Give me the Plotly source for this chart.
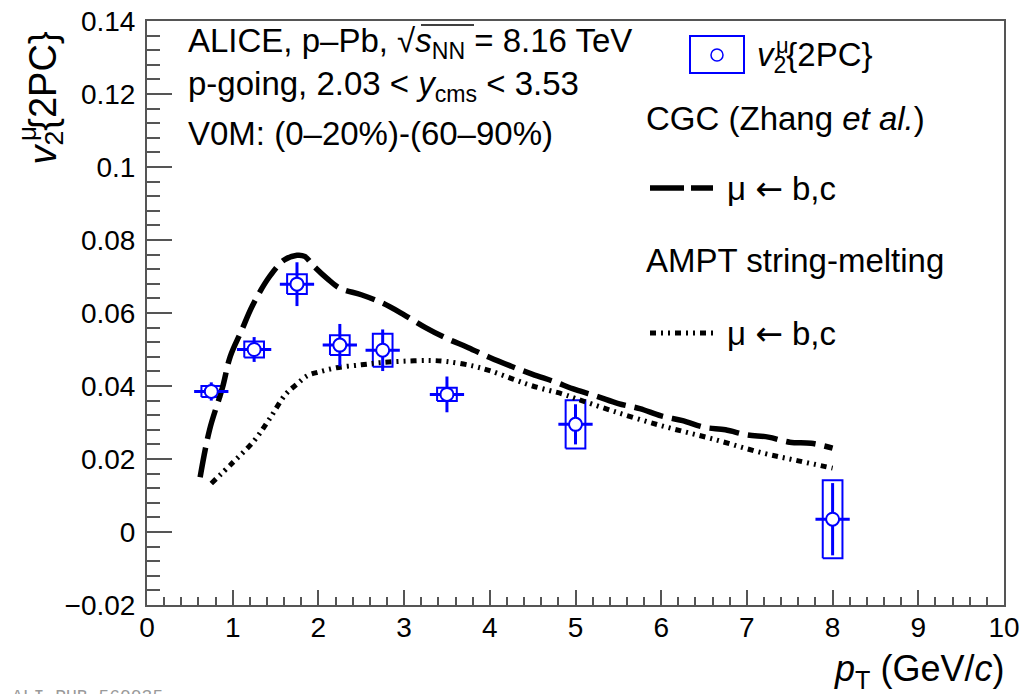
import plotly.graph_objects as go

# ---------------- data ----------------
pt = [0.75, 1.25, 1.75, 2.25, 2.75, 3.5, 5.0, 8.0]
v2 = [0.0385, 0.0500, 0.0679, 0.0512, 0.0498, 0.0377, 0.0295, 0.0035]
stat = [0.0025, 0.0034, 0.0060, 0.0058, 0.0057, 0.0049, 0.0055, 0.0099]
syst = [0.0015, 0.0022, 0.0027, 0.0027, 0.0045, 0.0018, 0.0066, 0.0107]
xerr = [0.2, 0.2, 0.2, 0.2, 0.2, 0.2, 0.2, 0.2]
box_half_width = 0.115

cgc_pt = [0.62, 0.73, 0.88, 0.97, 1.1, 1.23, 1.43, 1.6, 1.75, 1.84, 1.94, 2.1, 2.25,
          2.5, 2.75, 3.0, 3.25, 3.5, 3.75, 4.0, 4.25, 4.5, 4.75, 5.0, 5.25, 5.5,
          5.75, 6.0, 6.25, 6.5, 6.75, 7.0, 7.25, 7.5, 7.75, 8.0]
cgc_v2 = [0.015, 0.028, 0.0395, 0.048, 0.055, 0.062, 0.070, 0.0745, 0.0758, 0.0755,
          0.073, 0.0695, 0.0668, 0.065, 0.0627, 0.0595, 0.056, 0.053, 0.0505, 0.0478,
          0.0454, 0.0432, 0.0412, 0.039, 0.0372, 0.0352, 0.0338, 0.0318, 0.0305,
          0.0287, 0.028, 0.0266, 0.026, 0.0246, 0.0243, 0.023]

ampt_pt = [0.75, 1.0, 1.25, 1.43, 1.62, 1.75, 1.87, 2.0, 2.21, 2.5, 2.72, 3.0, 3.3,
           3.5, 3.8, 4.0, 4.27, 4.5, 4.85, 5.0, 5.44, 6.02, 6.6, 7.19, 7.6, 8.0]
ampt_v2 = [0.0133, 0.019, 0.025, 0.031, 0.0378, 0.0405, 0.0428, 0.0438, 0.045, 0.0458,
           0.0464, 0.0468, 0.047, 0.0467, 0.0455, 0.0442, 0.0419, 0.040, 0.0378,
           0.0366, 0.0331, 0.029, 0.0255, 0.0216, 0.0195, 0.0175]

x_range = [0, 10]
y_range = [-0.02, 0.14]
y_ticks = [-0.02, 0, 0.02, 0.04, 0.06, 0.08, 0.1, 0.12, 0.14]
y_ticklabels = ["\u22120.02", "0", "0.02", "0.04", "0.06", "0.08", "0.1", "0.12", "0.14"]
x_ticks = list(range(0, 11))

# ---------------- layout helpers (pixel -> paper) ----------------
W, H = 1033, 694
L, R, T, B = 147, 29, 21, 89
PW, PH = W - L - R, H - T - B


def px(x):
    return (x - L) / PW


def py(y):
    return (H - B - y) / PH


FONT = "Liberation Sans, Arial, Helvetica, sans-serif"
BLUE = "#0000ff"
AXC = "#555555"

fig = go.Figure()

# systematic boxes
bx, by = [], []
for x, y, s in zip(pt, v2, syst):
    bx += [x - box_half_width, x + box_half_width, x + box_half_width, x - box_half_width, x - box_half_width, None]
    by += [y - s, y - s, y + s, y + s, y - s, None]
fig.add_trace(go.Scatter(x=bx, y=by, mode="lines", line=dict(color=BLUE, width=2),
                         hoverinfo="skip", showlegend=False))

# models
fig.add_trace(go.Scatter(x=cgc_pt, y=cgc_v2, mode="lines", line_shape="spline",
                         line=dict(color="black", width=5.5, dash="30px,9px"),
                         showlegend=False))
fig.add_trace(go.Scatter(x=ampt_pt, y=ampt_v2, mode="lines", line_shape="spline",
                         line=dict(color="black", width=5, dash="6px,5px,2px,5px,2px,5px"),
                         showlegend=False))

# data
fig.add_trace(go.Scatter(
    x=pt, y=v2, mode="markers",
    marker=dict(symbol="circle", size=13, color="white", line=dict(color=BLUE, width=2)),
    error_y=dict(type="data", array=stat, color=BLUE, thickness=3, width=0),
    error_x=dict(type="data", array=xerr, color=BLUE, thickness=3, width=0),
    showlegend=False))

ann = []
TXT = 33


def add_text(text, x, y, size=TXT, xanchor="left", yanchor="middle", color="black", angle=0, family=FONT):
    ann.append(dict(text=text, x=x, y=y, xref="paper", yref="paper", showarrow=False,
                    xanchor=xanchor, yanchor=yanchor, textangle=angle,
                    font=dict(family=family, size=size, color=color)))


ARROW = "<span style='font-family:DejaVu Sans'>\u2190</span>"

# top-left labels
add_text("ALICE, p\u2013Pb, \u221a<i>s</i><sub>NN</sub> = 8.16 TeV", px(186), py(43))
add_text("p-going, 2.03 &lt; <i>y</i><sub>cms</sub> &lt; 3.53", px(186), py(86))
add_text("V0M: (0\u201320%)-(60\u201390%)", px(186), py(133))

# legend
add_text("<i>v</i><sub>2</sub>{2PC}", px(755), py(57))
add_text("\u03bc", px(782), py(45), size=22, xanchor="center")
add_text("CGC (Zhang <i>et al.</i>)", px(644), py(118))
add_text("\u03bc " + ARROW + " b,c", px(725), py(188))
add_text("AMPT string-melting", px(644), py(260))
add_text("\u03bc " + ARROW + " b,c", px(725), py(333))

# axis titles
add_text("<i>v</i><sub>2</sub>{2PC}", px(45), py(167), size=38, xanchor="center", yanchor="bottom", angle=-90)
add_text("\u03bc", px(27), py(134), size=26, xanchor="center", angle=-90)
add_text("<i>p</i><sub>T</sub> (GeV/<i>c</i>)", px(1006), py(671), size=36, xanchor="right")

# publication id (cut at the bottom)
add_text("ALI-PUB-560035", px(10), py(685), size=18, yanchor="top", color="#9a9a9a",
         family="Liberation Mono, DejaVu Sans Mono, monospace")

shapes = [
    # sqrt overline
    dict(type="line", xref="paper", yref="paper", x0=px(421), x1=px(474), y0=py(25), y1=py(25),
         line=dict(color="black", width=1.5)),
    # legend marker box + circle
    dict(type="rect", xref="paper", yref="paper", x0=px(690), x1=px(744), y0=py(73), y1=py(36),
         line=dict(color=BLUE, width=2)),
    dict(type="circle", xref="paper", yref="paper", x0=px(711), x1=px(723), y0=py(61), y1=py(49),
         line=dict(color=BLUE, width=1.5)),
    # legend lines
    dict(type="line", xref="paper", yref="paper", x0=px(650), x1=px(713), y0=py(188), y1=py(188),
         line=dict(color="black", width=5.5, dash="34px,7px")),
    dict(type="line", xref="paper", yref="paper", x0=px(650), x1=px(713), y0=py(333), y1=py(333),
         line=dict(color="black", width=5, dash="6px,5px,2px,5px,2px,5px")),
]

fig.update_layout(
    width=W, height=H,
    margin=dict(l=L, r=R, t=T, b=B, pad=0, autoexpand=False),
    paper_bgcolor="white", plot_bgcolor="white",
    font=dict(family=FONT, size=28, color="black"),
    showlegend=False,
    annotations=ann, shapes=shapes,
    xaxis=dict(range=x_range, tickvals=x_ticks, ticks="inside", ticklen=15, tickwidth=1.5,
               tickcolor=AXC, showline=True, linecolor=AXC, linewidth=2, mirror=True,
               showgrid=False, zeroline=False, tickfont=dict(size=28),
               ticklabelstandoff=-4, automargin=False,
               minor=dict(dtick=0.2, ticks="inside", ticklen=8, tickwidth=1.5, tickcolor=AXC,
                          showgrid=False)),
    yaxis=dict(range=y_range, tickvals=y_ticks, ticktext=y_ticklabels, ticks="inside",
               ticklen=25, tickwidth=1.5, tickcolor=AXC, showline=True, linecolor=AXC,
               linewidth=2, mirror=True, showgrid=False, zeroline=False,
               tickfont=dict(size=28), ticklabelstandoff=4, automargin=False,
               minor=dict(dtick=0.004, ticks="inside", ticklen=13, tickwidth=1.5,
                          tickcolor=AXC, showgrid=False)),
)

fig.write_html("out.html", config={"displayModeBar": False},
               post_script="document.body.style.margin='0';document.body.style.padding='0';")
